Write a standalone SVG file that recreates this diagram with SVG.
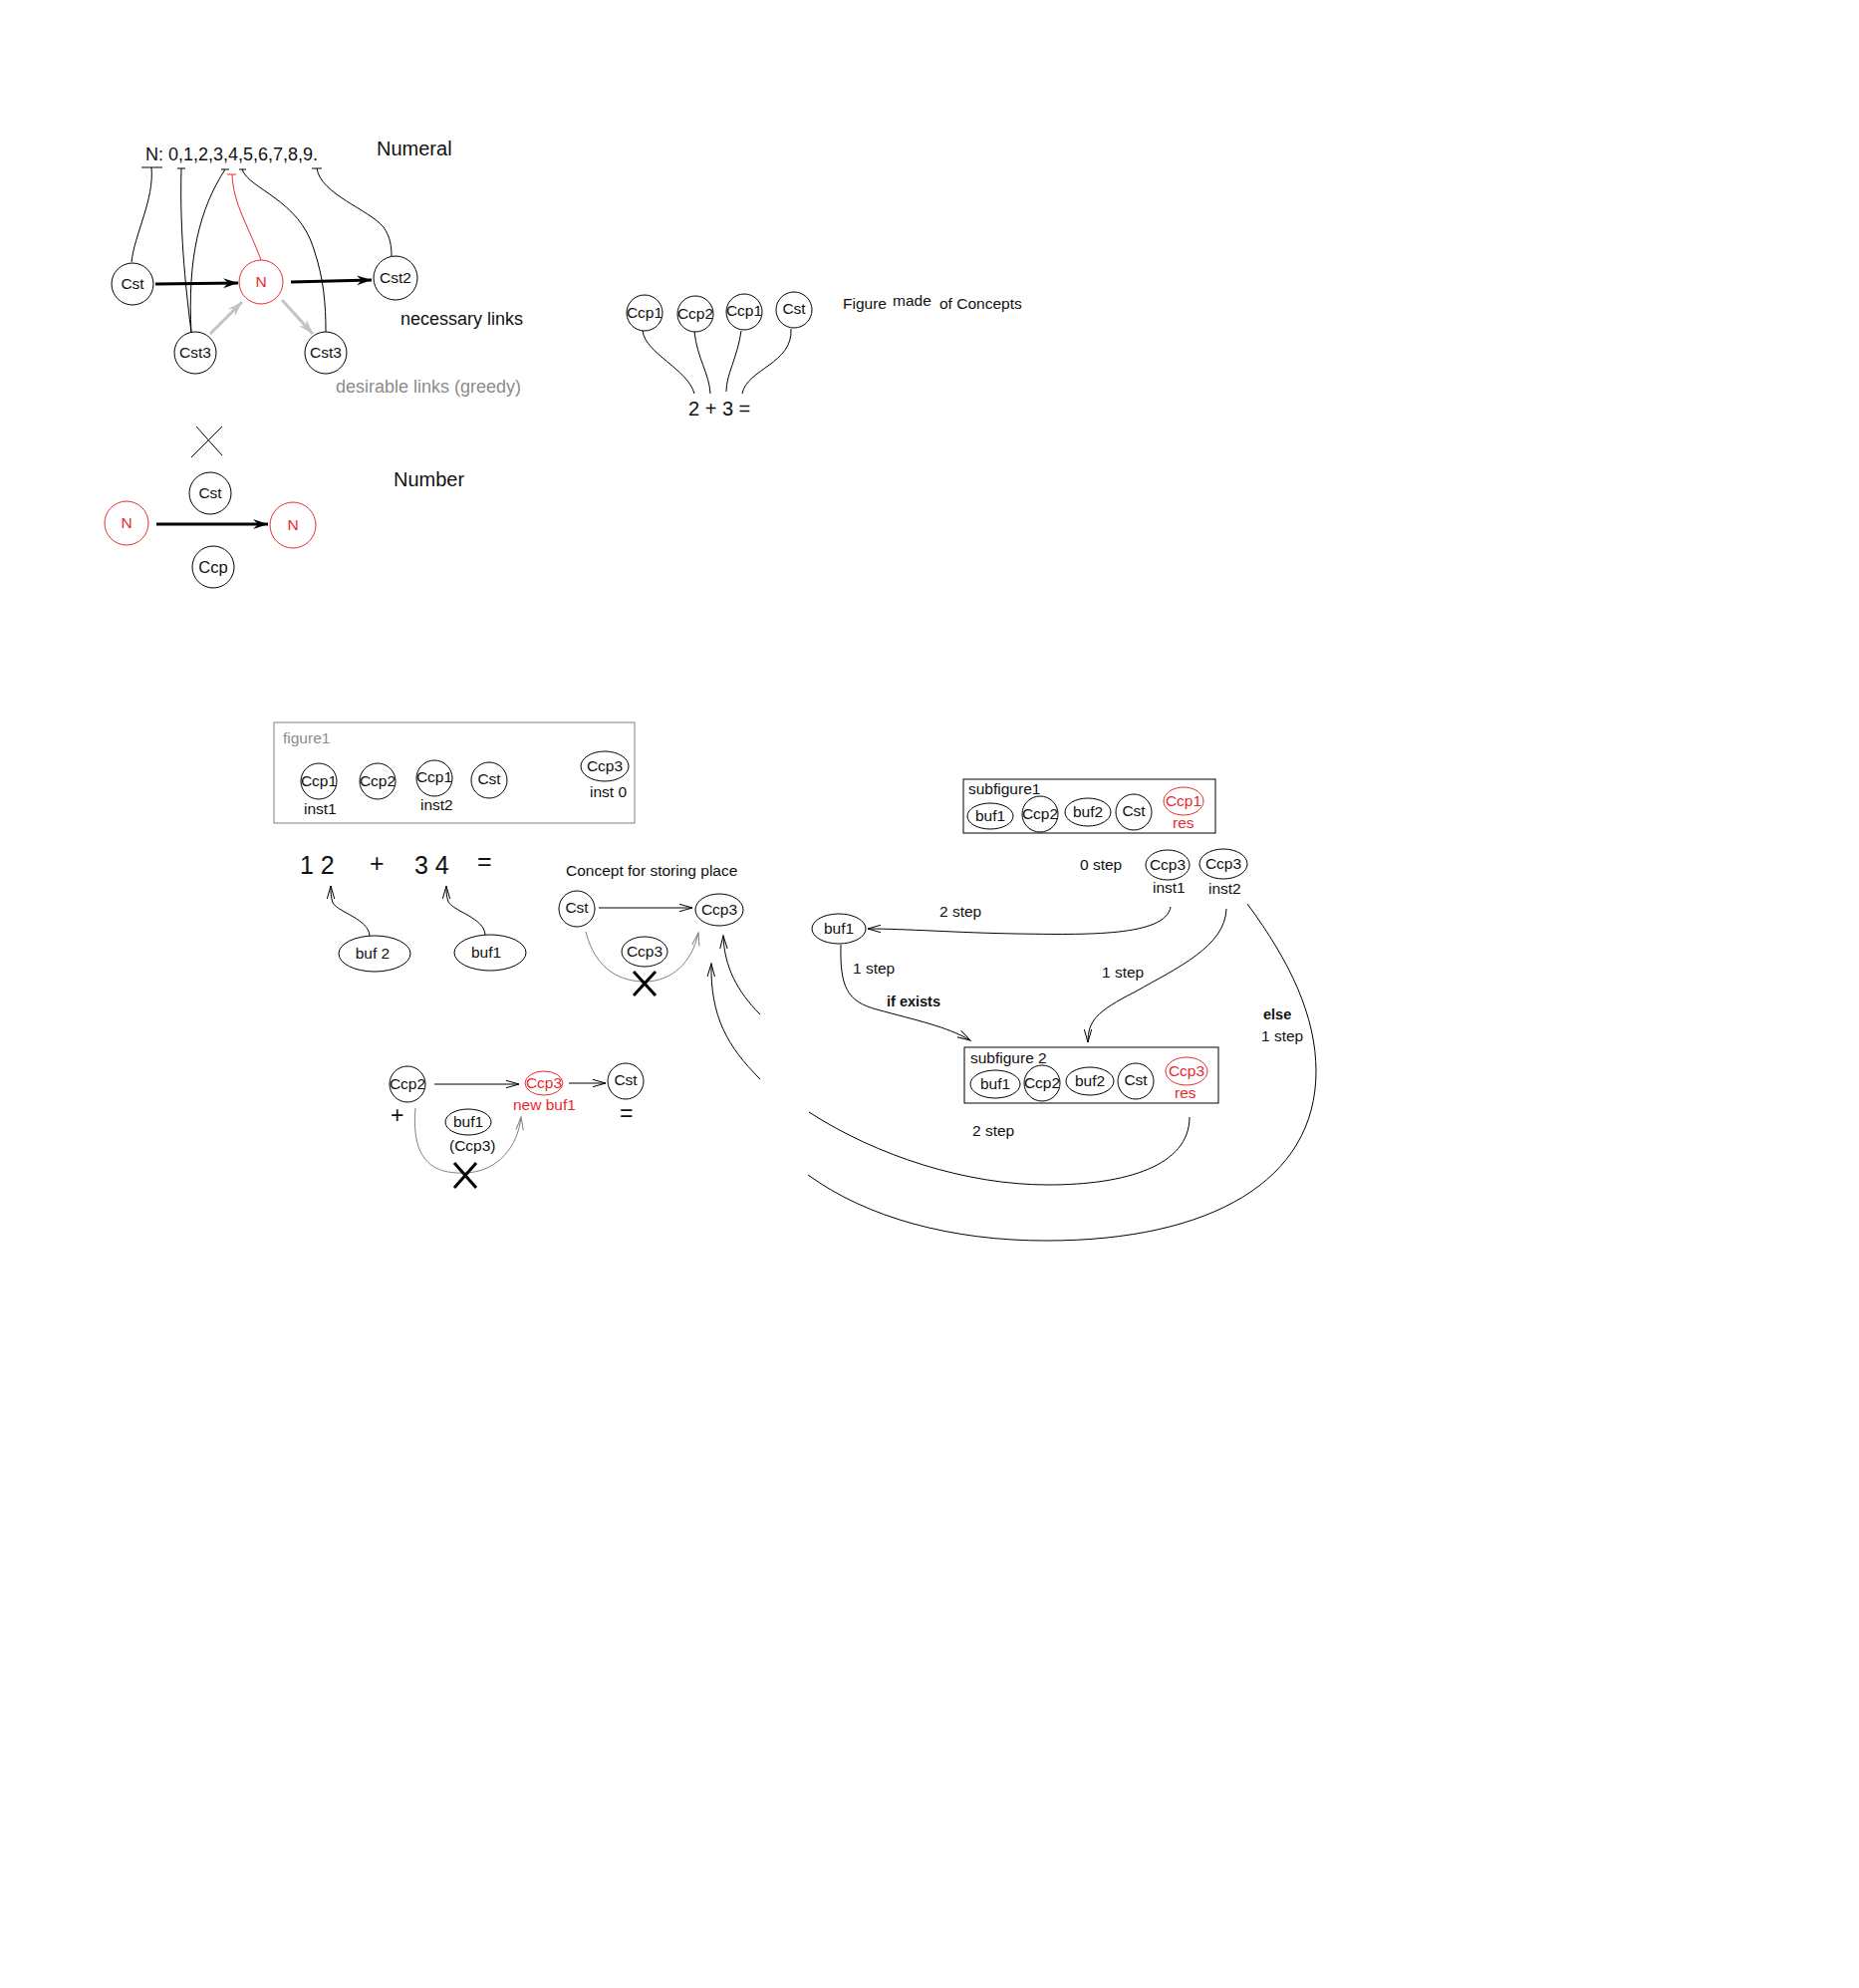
<svg xmlns="http://www.w3.org/2000/svg" width="1866" height="1995" viewBox="0 0 1866 1995">
<style>
text{font-family:"Liberation Sans",Arial,sans-serif;fill:#111}
.s{font-size:15.5px}
.c{text-anchor:middle}
.m{font-size:18px}
.t{font-size:20px}
.big{font-size:25px}
.b{font-weight:bold;font-size:14.5px}
.red{fill:#e82a2f}
.gt{fill:#8c8c8c}
.n{fill:#fff;stroke:#000;stroke-width:1}
.nr{fill:#fff;stroke:#e82a2f;stroke-width:1}
.ln{fill:none;stroke:#000;stroke-width:1}
.lr{fill:none;stroke:#e82a2f;stroke-width:1}
.lg{fill:none;stroke:#808080;stroke-width:1}
.thick{fill:none;stroke:#000;stroke-width:3}
.gth{fill:none;stroke:#c3c3c3;stroke-width:3}
.x{stroke:#000;stroke-width:3}
.x1{stroke:#000;stroke-width:1}
.box{fill:none;stroke:#000;stroke-width:1}
.gbox{fill:none;stroke:#808080;stroke-width:1}
</style>
<defs>
<marker id="open" markerUnits="userSpaceOnUse" markerWidth="16" markerHeight="10" refX="14" refY="5" orient="auto" viewBox="0 0 16 10">
<path d="M1,1.3 L14,5 L1,8.7" fill="none" stroke="#000" stroke-width="1"/>
</marker>
<marker id="openg" markerUnits="userSpaceOnUse" markerWidth="16" markerHeight="10" refX="14" refY="5" orient="auto" viewBox="0 0 16 10">
<path d="M1,1.3 L14,5 L1,8.7" fill="none" stroke="#808080" stroke-width="1"/>
</marker>
<marker id="thk" markerUnits="userSpaceOnUse" markerWidth="16" markerHeight="12" refX="15" refY="6" orient="auto" viewBox="0 0 16 12">
<path d="M0,1 L15,6 L0,11 L5,6 z" fill="#000"/>
</marker>
<marker id="gthk" markerUnits="userSpaceOnUse" markerWidth="16" markerHeight="12" refX="15" refY="6" orient="auto" viewBox="0 0 16 12">
<path d="M0,1 L15,6 L0,11 L5,6 z" fill="#c3c3c3"/>
</marker>
</defs>
<rect width="1866" height="1995" fill="#fff"/>

<!-- Numeral section -->
<g id="numeral-text">
<text x="146" y="161" class="m">N: 0,1,2,3,4,5,6,7,8,9.</text>
<text x="378" y="156" class="t">Numeral</text>
<text x="402" y="326" class="m">necessary links</text>
<text x="337" y="394" class="m gt">desirable links (greedy)</text>
</g>

<g id="connectors-top">
<path class="ln" d="M142,168 H163 M152,168 C155,200 135,235 132,263"/>
<path class="ln" d="M178,169 H186 M182,169 C180,240 188,300 192,334"/>
<path class="ln" d="M222,170 H230 M226,170 C200,210 188,260 192,334"/>
<path class="lr" d="M228,175 H237 M233,175 C234,205 250,228 262,261"/>
<path class="ln" d="M240,170 H247 M243,170 C250,190 300,200 315,250 C325,280 327,305 327,333"/>
<path class="ln" d="M313,169 H323 M318,169 C322,195 370,210 385,228 C392,238 393,248 393,257"/>
<path class="thick" d="M156,285 L239,284" marker-end="url(#thk)"/>
<path class="thick" d="M292,283 L373,281" marker-end="url(#thk)"/>
<path class="gth" d="M211,335 L243,303" marker-end="url(#gthk)"/>
<path class="gth" d="M283,301 L314,335" marker-end="url(#gthk)"/>
</g>

<g id="n-cst"><circle class="n" cx="133" cy="285" r="21"/><text x="133" y="290" class="s c">Cst</text></g>
<g id="n-N"><circle class="nr" cx="262" cy="283" r="22"/><text x="262" y="288" class="s c red">N</text></g>
<g id="n-cst2"><circle class="n" cx="397" cy="279" r="22"/><text x="397" y="284" class="s c">Cst2</text></g>
<g id="n-cst3a"><circle class="n" cx="196" cy="354" r="21"/><text x="196" y="359" class="s c">Cst3</text></g>
<g id="n-cst3b"><circle class="n" cx="327" cy="354" r="21"/><text x="327" y="359" class="s c">Cst3</text></g>

<!-- Number section -->
<g id="number-x"><line class="x1" x1="192" y1="459" x2="223" y2="428"/><line class="x1" x1="197" y1="428" x2="223" y2="457"/></g>
<g id="number-label"><text x="395" y="488" class="t">Number</text></g>
<g id="connectors-number"><path class="thick" d="M157,526 L269,526" marker-end="url(#thk)"/></g>
<g id="nb-cst"><circle class="n" cx="211" cy="495" r="21"/><text x="211" y="500" class="s c">Cst</text></g>
<g id="nb-N1"><circle class="nr" cx="127" cy="525" r="22"/><text x="127" y="530" class="s c red">N</text></g>
<g id="nb-N2"><circle class="nr" cx="294" cy="527" r="23"/><text x="294" y="532" class="s c red">N</text></g>
<g id="nb-ccp"><circle class="n" cx="214" cy="569" r="21"/><text x="214" y="575" class="c" style="font-size:16.5px">Ccp</text></g>

<!-- Figure made of concepts -->
<g id="fc-ccp1a"><circle class="n" cx="647" cy="314" r="18"/><text x="647" y="319" class="s c">Ccp1</text></g>
<g id="fc-ccp2"><circle class="n" cx="698" cy="315" r="18"/><text x="698" y="320" class="s c">Ccp2</text></g>
<g id="fc-ccp1b"><circle class="n" cx="747" cy="313" r="18"/><text x="747" y="317" class="s c">Ccp1</text></g>
<g id="fc-cst"><circle class="n" cx="797" cy="311" r="18"/><text x="797" y="315" class="s c">Cst</text></g>
<g id="fc-text">
<text x="846" y="310" class="s">Figure</text>
<text x="896" y="307" class="s">made</text>
<text x="943" y="310" class="s">of Concepts</text>
<text x="691" y="417" class="t">2 + 3 =</text>
</g>
<g id="connectors-fc">
<path class="ln" d="M645,332 C648,355 690,370 697,395"/>
<path class="ln" d="M697,333 C700,360 712,375 713,395"/>
<path class="ln" d="M744,332 C740,360 729,375 729,393"/>
<path class="ln" d="M794,330 C796,365 750,370 745,395"/>
</g>

<!-- figure1 -->
<g id="figure1">
<rect class="gbox" x="275" y="725" width="362" height="101"/>
<text x="284" y="746" class="s gt">figure1</text>
<circle class="n" cx="320" cy="784" r="18"/><text x="320" y="789" class="s c">Ccp1</text>
<text x="305" y="817" class="s">inst1</text>
<circle class="n" cx="379" cy="784" r="18"/><text x="379" y="789" class="s c">Ccp2</text>
<circle class="n" cx="436" cy="781" r="18"/><text x="436" y="785" class="s c">Ccp1</text>
<text x="422" y="813" class="s">inst2</text>
<circle class="n" cx="491" cy="783" r="18"/><text x="491" y="787" class="s c">Cst</text>
<ellipse class="n" cx="607" cy="769" rx="24" ry="15"/><text x="607" y="774" class="s c">Ccp3</text>
<text x="592" y="800" class="s">inst 0</text>
</g>

<!-- 12 + 34 = -->
<g id="sum-text">
<text x="301" y="877" class="big">1 2</text>
<text x="371" y="875" class="big">+</text>
<text x="416" y="877" class="big">3 4</text>
<text x="479" y="873" class="big">=</text>
</g>
<g id="buf2"><ellipse class="n" cx="376" cy="957" rx="36" ry="18"/><text x="374" y="962" class="s c">buf 2</text></g>
<g id="buf1a"><ellipse class="n" cx="492" cy="956" rx="36" ry="18"/><text x="488" y="961" class="s c">buf1</text></g>
<g id="connectors-sum">
<path class="ln" d="M371,939 C370,922 340,916 334,906 C332,900 332,896 332,889" marker-end="url(#open)"/>
<path class="ln" d="M487,938 C486,921 456,915 450,905 C448,899 448,895 448,889" marker-end="url(#open)"/>
</g>

<!-- Concept for storing place -->
<g id="store-text"><text x="568" y="879" class="s">Concept for storing place</text></g>
<g id="st-cst"><circle class="n" cx="579" cy="912" r="18"/><text x="579" y="916" class="s c">Cst</text></g>
<g id="st-ccp3"><ellipse class="n" cx="722" cy="913" rx="24" ry="16"/><text x="722" y="918" class="s c">Ccp3</text></g>
<g id="st-ccp3b"><ellipse class="n" cx="647" cy="955" rx="23" ry="15"/><text x="647" y="960" class="s c">Ccp3</text></g>
<g id="connectors-store">
<path class="ln" d="M601,911 L695,911" marker-end="url(#open)"/>
<path class="lg" d="M588,935 C598,975 625,985 647,985 C675,985 695,965 701,936" marker-end="url(#openg)"/>
<line class="x" x1="636" y1="975" x2="658" y2="999"/><line class="x" x1="658" y1="975" x2="636" y2="999"/>
<path class="ln" d="M763,1018 C740,995 727,970 726,939" marker-end="url(#open)"/>
<path class="ln" d="M763,1083 C730,1050 713,1020 714,967" marker-end="url(#open)"/>
</g>

<!-- Ccp2 -> Ccp3 -> Cst -->
<g id="bl-ccp2"><circle class="n" cx="409" cy="1088" r="18"/><text x="409" y="1093" class="s c">Ccp2</text></g>
<g id="bl-ccp3"><ellipse class="nr" cx="546" cy="1087" rx="19" ry="12"/><text x="546" y="1092" class="s c red">Ccp3</text><text x="515" y="1114" class="s red">new buf1</text></g>
<g id="bl-cst"><circle class="n" cx="628" cy="1085" r="18"/><text x="628" y="1089" class="s c">Cst</text></g>
<g id="bl-buf1"><ellipse class="n" cx="470" cy="1126" rx="23" ry="13"/><text x="470" y="1131" class="s c">buf1</text><text x="451" y="1155" class="s">(Ccp3)</text></g>
<g id="bl-text">
<text x="392" y="1127" style="font-size:23px">+</text>
<text x="622" y="1125" style="font-size:23px">=</text>
</g>
<g id="connectors-bl">
<path class="ln" d="M436,1088 L521,1088" marker-end="url(#open)"/>
<path class="ln" d="M571,1087 L608,1087" marker-end="url(#open)"/>
<path class="lg" d="M417,1112 C412,1170 440,1178 467,1177 C500,1176 520,1150 523,1121" marker-end="url(#openg)"/>
<line class="x" x1="456" y1="1167" x2="478" y2="1192"/><line class="x" x1="478" y1="1167" x2="456" y2="1192"/>
</g>

<!-- subfigure1 -->
<g id="subfigure1">
<rect class="box" x="967" y="782" width="253" height="54"/>
<text x="972" y="797" class="s">subfigure1</text>
<ellipse class="n" cx="994" cy="819" rx="23" ry="13"/><text x="994" y="824" class="s c">buf1</text>
<circle class="n" cx="1044" cy="817" r="18"/><text x="1044" y="822" class="s c">Ccp2</text>
<ellipse class="n" cx="1092" cy="815" rx="23" ry="14"/><text x="1092" y="820" class="s c">buf2</text>
<circle class="n" cx="1138" cy="815" r="18"/><text x="1138" y="819" class="s c">Cst</text>
<ellipse class="nr" cx="1188" cy="804" rx="20" ry="14"/><text x="1188" y="809" class="s c red">Ccp1</text>
<text x="1177" y="831" class="s red">res</text>
</g>
<g id="inst1"><ellipse class="n" cx="1172" cy="868" rx="22" ry="15"/><text x="1172" y="873" class="s c">Ccp3</text><text x="1157" y="896" class="s">inst1</text></g>
<g id="inst2"><ellipse class="n" cx="1228" cy="867" rx="24" ry="15"/><text x="1228" y="872" class="s c">Ccp3</text><text x="1213" y="897" class="s">inst2</text></g>
<g id="buf1b"><ellipse class="n" cx="842" cy="932" rx="27" ry="15"/><text x="842" y="937" class="s c">buf1</text></g>

<!-- subfigure 2 -->
<g id="subfigure2">
<rect class="box" x="968" y="1051" width="255" height="56"/>
<text x="974" y="1067" class="s">subfigure 2</text>
<ellipse class="n" cx="999" cy="1088" rx="25" ry="14"/><text x="999" y="1093" class="s c">buf1</text>
<circle class="n" cx="1046" cy="1087" r="18"/><text x="1046" y="1092" class="s c">Ccp2</text>
<ellipse class="n" cx="1094" cy="1085" rx="24" ry="14"/><text x="1094" y="1090" class="s c">buf2</text>
<circle class="n" cx="1140" cy="1085" r="18"/><text x="1140" y="1089" class="s c">Cst</text>
<ellipse class="nr" cx="1191" cy="1075" rx="21" ry="14"/><text x="1191" y="1080" class="s c red">Ccp3</text>
<text x="1179" y="1102" class="s red">res</text>
</g>

<g id="step-labels">
<text x="1084" y="873" class="s">0 step</text>
<text x="943" y="920" class="s">2 step</text>
<text x="856" y="977" class="s">1 step</text>
<text x="890" y="1010" class="b">if exists</text>
<text x="1106" y="981" class="s">1 step</text>
<text x="1268" y="1023" class="b">else</text>
<text x="1266" y="1045" class="s">1 step</text>
<text x="976" y="1140" class="s">2 step</text>
</g>

<g id="connectors-flow">
<path class="ln" d="M1175,910 C1170,940 1090,938 1020,937 C960,936 910,932 871,932" marker-end="url(#open)"/>
<path class="ln" d="M844,948 C843,990 850,1005 880,1013 C920,1024 950,1030 974,1044" marker-end="url(#open)"/>
<path class="ln" d="M1231,912 C1230,950 1180,972 1140,995 C1100,1015 1092,1025 1092,1046" marker-end="url(#open)"/>
<path class="ln" d="M1252,907 C1295,965 1321,1020 1321,1075 C1321,1185 1215,1245 1050,1245 C955,1245 870,1222 811,1179"/>
<path class="ln" d="M1194,1121 C1194,1170 1130,1189 1052,1189 C970,1189 880,1160 812,1116"/>
</g>
</svg>
